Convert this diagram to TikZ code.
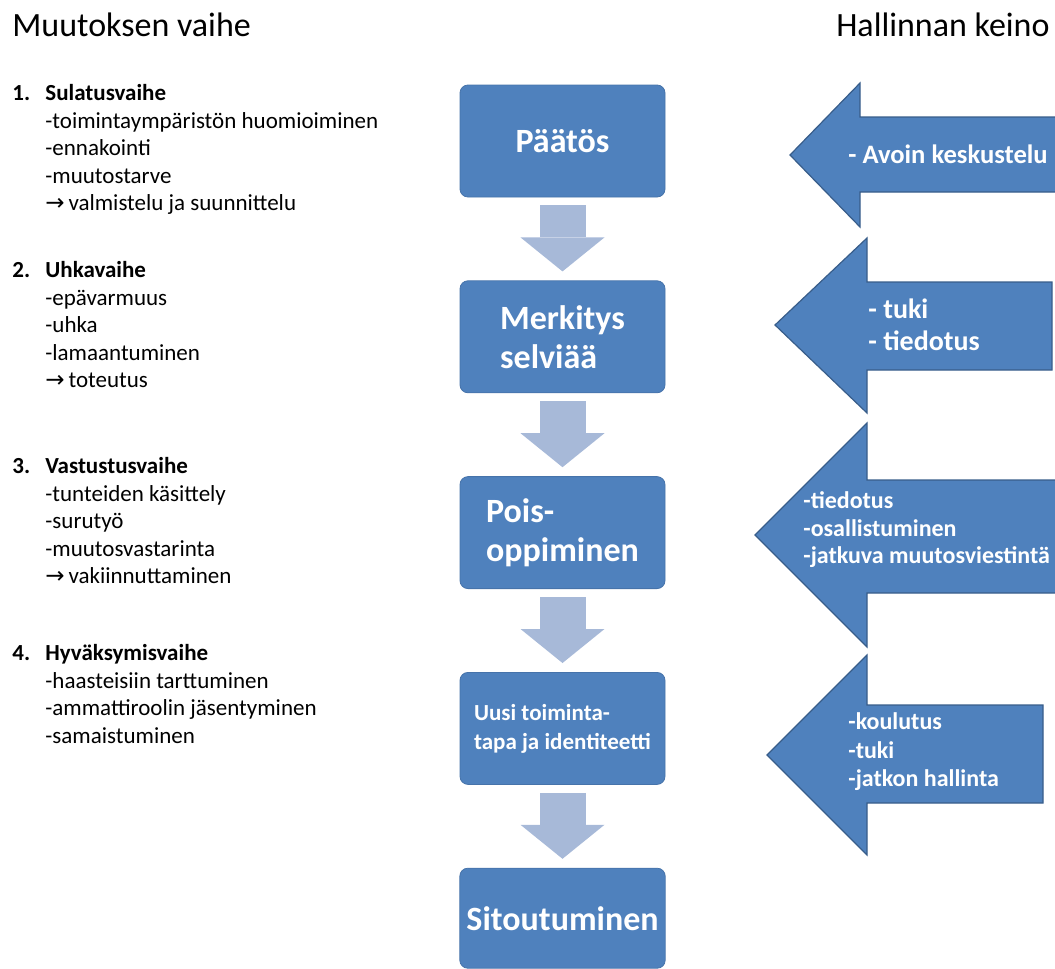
\documentclass[tikz,border=0pt]{standalone}
\usepackage{fontspec}
\setmainfont{Carlito}
\newfontfamily\arrowfont{DejaVu Sans}
\usepackage{tikz}
\usetikzlibrary{positioning,arrows.meta}

\definecolor{boxblue}{RGB}{79,129,189}
\definecolor{boxedge}{RGB}{70,115,170}
\definecolor{flowblue}{RGB}{167,185,216}
\definecolor{keinoedge}{RGB}{56,93,138}

\begin{document}
\begin{tikzpicture}[
    x=0.5pt, y=-0.5pt,
    node distance=41.5pt,
    heading/.style={inner sep=0pt, font=\fontsize{17}{20}\selectfont},
    phase/.style={inner sep=0pt, anchor=north west, font=\fontsize{11.5}{13.75}\selectfont},
    stage/.style={rectangle, rounded corners=4pt, draw=boxedge, fill=boxblue, minimum width=102.5pt, minimum height=56pt, align=left, text=white, font=\fontsize{17}{19.5}\selectfont\bfseries},
    flow/.style={draw=flowblue, line width=23pt, -{Triangle[length=17pt, width=42pt, line width=0pt]}},
    keino/.style={draw=keinoedge, fill=boxblue, line width=0.6pt},
    keinotext/.style={align=left, text=white, inner sep=0pt, anchor=west}
]
\useasboundingbox (0,0) rectangle (1055,969);
\clip (0,0) rectangle (1055,969);

\node[heading, anchor=base west] (muutos) at (12,36) {Muutoksen vaihe};
\node[heading, anchor=base east] (hallinta) at (1050,36) {Hallinnan keino};

\node[phase] (vaihe1) at (12,81) {\begin{tabular}{@{}p{16.5pt}@{}l@{}}
\textbf{1.} & \textbf{Sulatusvaihe}\\
 & -toimintaympäristön huomioiminen\\
 & -ennakointi\\
 & -muutostarve\\
 & {\arrowfont →}\,valmistelu ja suunnittelu
\end{tabular}};
\node[phase] (vaihe2) at (12,258) {\begin{tabular}{@{}p{16.5pt}@{}l@{}}
\textbf{2.} & \textbf{Uhkavaihe}\\
 & -epävarmuus\\
 & -uhka\\
 & -lamaantuminen\\
 & {\arrowfont →}\,toteutus
\end{tabular}};
\node[phase] (vaihe3) at (12,454) {\begin{tabular}{@{}p{16.5pt}@{}l@{}}
\textbf{3.} & \textbf{Vastustusvaihe}\\
 & -tunteiden käsittely\\
 & -surutyö\\
 & -muutosvastarinta\\
 & {\arrowfont →}\,vakiinnuttaminen
\end{tabular}};
\node[phase] (vaihe4) at (12,641) {\begin{tabular}{@{}p{16.5pt}@{}l@{}}
\textbf{4.} & \textbf{Hyväksymisvaihe}\\
 & -haasteisiin tarttuminen\\
 & -ammattiroolin jäsentyminen\\
 & -samaistuminen
\end{tabular}};

\node[stage] (paatos) at (562.5,141) {Päätös};
\node[stage, below=of paatos] (merkitys) {Merkitys\\selviää};
\node[stage, below=of merkitys] (pois) {Pois-\\oppiminen};
\node[stage, below=of pois, font=\fontsize{11.5}{14.5}\selectfont\bfseries] (uusi) {Uusi toiminta-\\tapa ja identiteetti};
\node[stage, below=of uusi, minimum height=50pt] (sitoutuminen) {Sitoutuminen};

\foreach \a/\b in {paatos/merkitys, merkitys/pois, pois/uusi, uusi/sitoutuminen}
  \draw[flow] ([yshift=-4pt]\a.south) -- ([yshift=4.5pt]\b.north);

\draw[keino] (1060,117) -- (860,117) -- (860,83) -- (790,155) -- (860,227) -- (860,192) -- (1060,192) -- cycle;
\node[keinotext, font=\fontsize{13.3}{16}\selectfont\bfseries] (keino1) at (848,154) {- Avoin keskustelu};

\draw[keino] (1052,282) -- (867,282) -- (867,238) -- (775,325) -- (867,413) -- (867,370) -- (1052,370) -- cycle;
\node[keinotext, font=\fontsize{14}{16}\selectfont\bfseries] (keino2) at (868,325) {- tuki\\- tiedotus};

\draw[keino] (1060,480) -- (867,480) -- (867,423) -- (755,535) -- (867,647) -- (867,593) -- (1060,593) -- cycle;
\node[keinotext, font=\fontsize{12}{13.75}\selectfont\bfseries] (keino3) at (803,530) {-tiedotus\\-osallistuminen\\-jatkuva muutosviestintä};

\draw[keino] (1043,705) -- (867,705) -- (867,655) -- (767,755) -- (867,855) -- (867,803) -- (1043,803) -- cycle;
\node[keinotext, font=\fontsize{12}{14.25}\selectfont\bfseries] (keino4) at (848,752) {-koulutus\\-tuki\\-jatkon hallinta};

\end{tikzpicture}
\end{document}
